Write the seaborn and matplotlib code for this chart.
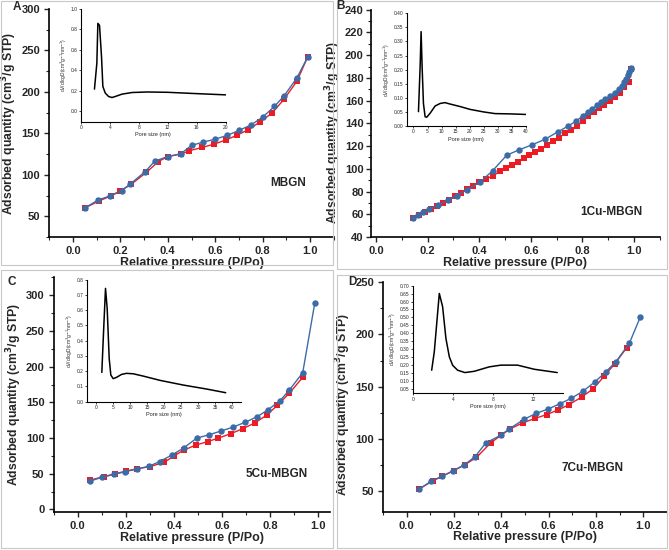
import numpy as np
import matplotlib
matplotlib.use("Agg")
import matplotlib.pyplot as plt
import seaborn as sns
from matplotlib.ticker import MultipleLocator, AutoMinorLocator, FormatStrFormatter
from matplotlib.patches import Rectangle

sns.set_style("ticks")
plt.rcParams["font.family"] = ["Liberation Sans", "DejaVu Sans"]

# ---------------- isotherm data (adsorption = red, desorption = blue) ----------------
a_ads_x = [0.05, 0.11, 0.16, 0.2, 0.245, 0.31, 0.36, 0.4, 0.455, 0.49, 0.545, 0.595, 0.645, 0.69, 0.74, 0.79, 0.84, 0.89, 0.945, 0.99]
a_ads_y = [60, 68.5, 74.5, 80.5, 88.5, 103, 116, 122, 125, 129, 133, 137, 142, 147.5, 154.5, 164, 174.5, 191, 213, 242]
a_des_x = [0.05, 0.105, 0.155, 0.205, 0.24, 0.305, 0.345, 0.4, 0.455, 0.5, 0.55, 0.6, 0.65, 0.7, 0.75, 0.8, 0.85, 0.89, 0.945, 0.99]
a_des_y = [60, 69.5, 74.5, 81, 88.5, 104, 116.5, 122, 125.5, 135.5, 139.5, 143, 147.5, 153.5, 160, 169.5, 182.5, 195, 217, 242]

b_ads_x = [0.145, 0.167, 0.19, 0.213, 0.236, 0.259, 0.282, 0.305, 0.329, 0.352, 0.375, 0.4, 0.426,
           0.455, 0.481, 0.504, 0.528, 0.55, 0.572, 0.595, 0.617, 0.64, 0.662,
           0.685, 0.71, 0.733, 0.756, 0.779, 0.803, 0.823, 0.844, 0.865, 0.885,
           0.906, 0.925, 0.945, 0.963, 0.979, 0.99]
b_ads_y = [57, 59.5, 62, 64.5, 67, 69.8, 72.8, 76, 79, 81.8, 84.8, 88, 91,
           94, 97.8, 101, 103.6, 106.3, 109.2, 112.1, 114.8, 117.7, 120.6,
           124.2, 127.4, 131.2, 134.4, 137.9, 142, 146.2, 150, 153.2, 156.4,
           159.6, 163.2, 167, 171.7, 176, 188]
b_des_x = [0.145, 0.164, 0.183, 0.207, 0.242, 0.28, 0.313, 0.351, 0.403, 0.452, 0.507, 0.556, 0.606, 0.655, 0.704,
           0.743, 0.775, 0.802, 0.82, 0.838, 0.855, 0.871, 0.888, 0.906, 0.926, 0.942, 0.952, 0.96, 0.968, 0.975,
           0.981, 0.987, 0.99]
b_des_y = [56.7, 59.4, 61.7, 64.3, 68.2, 72.6, 76.4, 81.3, 88.2, 98.3, 112, 116.8, 121.2, 126, 132.4,
           137.4, 141.8, 146.7, 149.7, 152.7, 155.8, 158.5, 161.1, 164, 167, 170, 173, 176, 179, 182.5,
           185, 187.8, 189]

c_ads_x = [0.05, 0.11, 0.155, 0.2, 0.245, 0.3, 0.36, 0.4, 0.44, 0.49, 0.54, 0.585, 0.635, 0.685, 0.735, 0.785, 0.83, 0.88, 0.935]
c_ads_y = [41, 46, 50, 53.5, 57, 60, 66, 75, 83, 90, 95, 100, 106, 113, 121, 132, 146, 163, 185]
c_des_x = [0.05, 0.1, 0.15, 0.195, 0.245, 0.295, 0.34, 0.39, 0.44, 0.495, 0.545, 0.595, 0.645, 0.695, 0.745, 0.79, 0.84, 0.88, 0.935, 0.985]
c_des_y = [39.5, 45, 49, 52.8, 56.5, 60.3, 67, 76, 86, 100, 104.5, 109.8, 115.2, 122, 129.7, 139.5, 152, 167.5, 191.5, 289]

d_ads_x = [0.05, 0.11, 0.15, 0.2, 0.245, 0.295, 0.355, 0.4, 0.437, 0.493, 0.542, 0.592, 0.641, 0.687, 0.739, 0.789, 0.834, 0.88, 0.93]
d_ads_y = [51.5, 59.5, 64, 69.5, 75, 82, 96, 103.5, 109.4, 115.5, 119.4, 123.2, 127.7, 132.8, 139.9, 148, 159.8, 172, 187.4]
d_des_x = [0.052, 0.103, 0.148, 0.197, 0.244, 0.289, 0.334, 0.399, 0.434, 0.497, 0.546, 0.599, 0.648, 0.696, 0.746, 0.796, 0.842, 0.885, 0.941, 0.987]
d_des_y = [51.3, 59.3, 63.8, 69.3, 75, 82.7, 95.9, 103.5, 109.5, 118.7, 124.2, 128.6, 133.6, 138.8, 145.7, 154.6, 164.2, 174, 191.6, 216.6]

# ---------------- pore size distributions (insets) ----------------
a_pore = [1.86, 2.19, 2.33, 2.56, 2.84, 3.02, 3.35, 3.81, 4.28, 4.74, 5.67, 7.07, 9.16, 11.95, 15.67, 20]
a_dv = [0.218, 0.47, 0.86, 0.84, 0.53, 0.244, 0.18, 0.146, 0.136, 0.146, 0.169, 0.185, 0.19, 0.187, 0.175, 0.162]

b_pore = [1.78, 2.37, 2.72, 3.08, 3.55, 4.14, 4.7, 5.9, 7.7, 9.5, 11.2, 13, 16.6, 20.1, 24.9, 29, 34.3, 40]
b_dv = [0.051, 0.21, 0.335, 0.21, 0.08, 0.033, 0.031, 0.045, 0.071, 0.08, 0.083, 0.078, 0.069, 0.059, 0.05, 0.044, 0.043, 0.041]

c_pore = [1.76, 2.35, 2.84, 3.33, 3.92, 4.4, 5.1, 6.1, 7.55, 9, 11, 13.9, 18.8, 25.7, 32.5, 38.1]
c_dv = [0.192, 0.5, 0.743, 0.612, 0.284, 0.175, 0.151, 0.16, 0.179, 0.186, 0.183, 0.168, 0.14, 0.109, 0.083, 0.059]

d_pore = [1.89, 2.15, 2.65, 2.98, 3.31, 3.65, 3.98, 4.47, 5.2, 6.13, 7.62, 8.78, 10.44, 12.1, 14.4]
d_dv = [0.166, 0.282, 0.651, 0.567, 0.366, 0.25, 0.197, 0.166, 0.151, 0.159, 0.187, 0.198, 0.198, 0.172, 0.151]

RED = "#ec1c24"
BLUE = "#3c6ca8"

fig = plt.figure(figsize=(6.69, 5.5), dpi=100)


def px_rect(l, t, r, b):
    # figure-pixel box -> [left, bottom, width, height]
    return [l / 669, (550 - b) / 550, (r - l) / 669, (b - t) / 550]


def main_panel(rect, ads_x, ads_y, des_x, des_y, xlim, ylim, ystep, name, name_xy, ylab_y=0.5, ypad=3):
    ax = fig.add_axes(rect)
    sns.lineplot(x=ads_x, y=ads_y, ax=ax, color=RED, marker="s", markersize=3.8,
                 markeredgewidth=0, linewidth=1.0, sort=False)
    sns.lineplot(x=des_x, y=des_y, ax=ax, color=BLUE, marker="o", markersize=4.6,
                 markeredgewidth=0, linewidth=1.0, sort=False)
    ax.set_xlim(*xlim)
    ax.set_ylim(*ylim)
    ax.set_xticks([0.0, 0.2, 0.4, 0.6, 0.8, 1.0])
    ax.xaxis.set_major_formatter(FormatStrFormatter("%.1f"))
    ax.yaxis.set_major_locator(MultipleLocator(ystep))
    ax.xaxis.set_minor_locator(AutoMinorLocator(2))
    ax.yaxis.set_minor_locator(AutoMinorLocator(2))
    ax.tick_params(which="major", direction="out", length=3.5, width=1.0, labelsize=8, pad=3)
    ax.tick_params(axis="y", which="major", pad=ypad)
    ax.tick_params(which="minor", direction="out", length=2, width=0.8)
    for lab in ax.get_xticklabels() + ax.get_yticklabels():
        lab.set_fontweight("bold")
    for s in ["top", "right"]:
        ax.spines[s].set_visible(False)
    for s in ["left", "bottom"]:
        ax.spines[s].set_linewidth(1.2)
        ax.spines[s].set_color("black")
    ax.set_xlabel("Relative pressure (P/Po)", fontsize=9, fontweight="bold", labelpad=0.5)
    ax.set_ylabel("Adsorbed quantity (cm$^\\mathbf{3}$/g STP)", fontsize=8.8, fontweight="bold", labelpad=1.5)
    ax.yaxis.label.set_y(ylab_y)
    ax.text(name_xy[0], name_xy[1], name, fontsize=8.5, fontweight="bold", ha="center", va="center")
    return ax


def inset(rect, px, dv, xlim, ylim, xticks, yticks, yfmt):
    ax = fig.add_axes(rect)
    sns.lineplot(x=px, y=dv, ax=ax, color="black", linewidth=1.1, sort=False)
    ax.set_xlim(*xlim)
    ax.set_ylim(*ylim)
    ax.set_xticks(xticks)
    ax.set_yticks(yticks)
    ax.yaxis.set_major_formatter(FormatStrFormatter(yfmt))
    ax.tick_params(direction="out", length=1.5, width=0.6, labelsize=3.5, pad=1)
    for s in ["top", "right"]:
        ax.spines[s].set_visible(False)
    for s in ["left", "bottom"]:
        ax.spines[s].set_linewidth(0.8)
        ax.spines[s].set_color("black")
    ax.set_xlabel("Pore size (nm)", fontsize=4, labelpad=1.5)
    ax.set_ylabel("dV/dlogD(cm$^3$g$^{-1}$nm$^{-1}$)", fontsize=3.5, labelpad=1.5)
    ax.patch.set_alpha(0)
    return ax


# panel A
main_panel(px_rect(49.3, 9, 333.7, 237), a_ads_x, a_ads_y, a_des_x, a_des_y,
           (-0.1, 1.1), (25, 300), 50, "MBGN", (0.907, 90))
inset(px_rect(81, 9, 225.7, 121.7), a_pore, a_dv, (0, 20), (-0.1, 1.0),
      [0, 4, 8, 12, 16, 20], [0.0, 0.2, 0.4, 0.6, 0.8, 1.0], "%.1f")

# panel B
main_panel(px_rect(370.8, 9.7, 659.8, 237), b_ads_x, b_ads_y, b_des_x, b_des_y,
           (-0.02, 1.1), (40, 240), 20, "1Cu-MBGN", (0.911, 62), ylab_y=0.46, ypad=1.5)
inset(px_rect(406.7, 13.3, 526, 126), b_pore, b_dv, (-2.4, 40), (0, 0.4),
      [0, 5, 10, 15, 20, 25, 30, 35, 40], [0, 0.05, 0.1, 0.15, 0.2, 0.25, 0.3, 0.35, 0.4], "%.2f")

# panel C
main_panel(px_rect(53.6, 276.7, 330.4, 512.3), c_ads_x, c_ads_y, c_des_x, c_des_y,
           (-0.1, 1.05), (-4, 326), 50, "5Cu-MBGN", (0.827, 50))
inset(px_rect(87.3, 279.7, 240.7, 401.7), c_pore, c_dv, (-2.5, 42.5), (0, 0.8),
      [0, 5, 10, 15, 20, 25, 30, 35, 40], [0, 0.1, 0.2, 0.3, 0.4, 0.5, 0.6, 0.7, 0.8], "%.1f")

# panel D
main_panel(px_rect(383, 282.3, 667, 511.7), d_ads_x, d_ads_y, d_des_x, d_des_y,
           (-0.1, 1.1), (30, 250), 50, "7Cu-MBGN", (0.786, 71.5), ylab_y=0.47)
inset(px_rect(412.7, 285.7, 563.3, 393.3), d_pore, d_dv, (0, 15), (0.02, 0.70),
      [0, 4, 8, 12], [0.05, 0.1, 0.15, 0.2, 0.25, 0.3, 0.35, 0.4, 0.45, 0.5, 0.55, 0.6, 0.65, 0.7], "%.2f")

# panel letters and frames
for letter, (lx, ly) in zip("ABCD", [(17, 7), (341, 6), (12, 282), (352, 282)]):
    fig.text(lx / 669, 1 - ly / 550, letter, fontsize=8.5, fontweight="bold", ha="center", va="center")

for (l, t, r, b) in [(1, 1, 333, 265), (337, 1, 667, 269), (1, 270, 333, 548), (337, 275, 667, 548)]:
    fig.add_artist(Rectangle((l / 669, 1 - b / 550), (r - l) / 669, (b - t) / 550,
                             transform=fig.transFigure, fill=False, edgecolor="#c8c8c8", linewidth=0.8))

fig.savefig("out.png", dpi=100)
